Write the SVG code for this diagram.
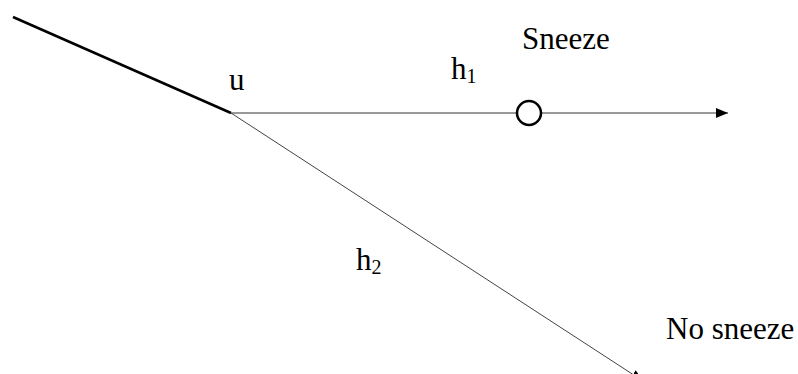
<svg xmlns="http://www.w3.org/2000/svg" width="798" height="374" viewBox="0 0 798 374">
<style>
.lbl { font-family: 'Liberation Serif', 'DejaVu Serif', serif; font-size: 31px; fill: #000; }
.sub { font-size: 20px; }
</style>
<defs>
<marker id="ah" markerUnits="userSpaceOnUse" markerWidth="12" markerHeight="10" refX="12" refY="5" orient="auto">
<path d="M0,0 L12,5 L0,10 Z" fill="#000"/>
</marker>
</defs>
<rect width="798" height="374" fill="#fff"/>
<g id="connectors">
<line x1="13" y1="17" x2="231" y2="113" stroke="#000" stroke-width="2.5"/>
<line x1="231" y1="113" x2="728" y2="113" stroke="#999" stroke-width="2" marker-end="url(#ah)"/>
<line x1="231" y1="113" x2="643" y2="381" stroke="#444" stroke-width="1" marker-end="url(#ah)"/>
</g>
<g id="node-u"><text class="lbl" x="229" y="90" font-family="Liberation Serif, serif">u</text></g>
<g id="label-h1"><text class="lbl" x="451" y="79" font-family="Liberation Serif, serif">h<tspan class="sub" dy="4">1</tspan></text></g>
<g id="label-h2"><text class="lbl" x="356" y="270" font-family="Liberation Serif, serif">h<tspan class="sub" dy="4">2</tspan></text></g>
<g id="node-sneeze">
<circle cx="529" cy="113" r="12" fill="#fff" stroke="#000" stroke-width="2.5"/>
<text class="lbl" x="522" y="49" font-family="Liberation Serif, serif">Sneeze</text>
</g>
<g id="node-nosneeze"><text class="lbl" x="666" y="339" font-family="Liberation Serif, serif">No sneeze</text></g>
</svg>
